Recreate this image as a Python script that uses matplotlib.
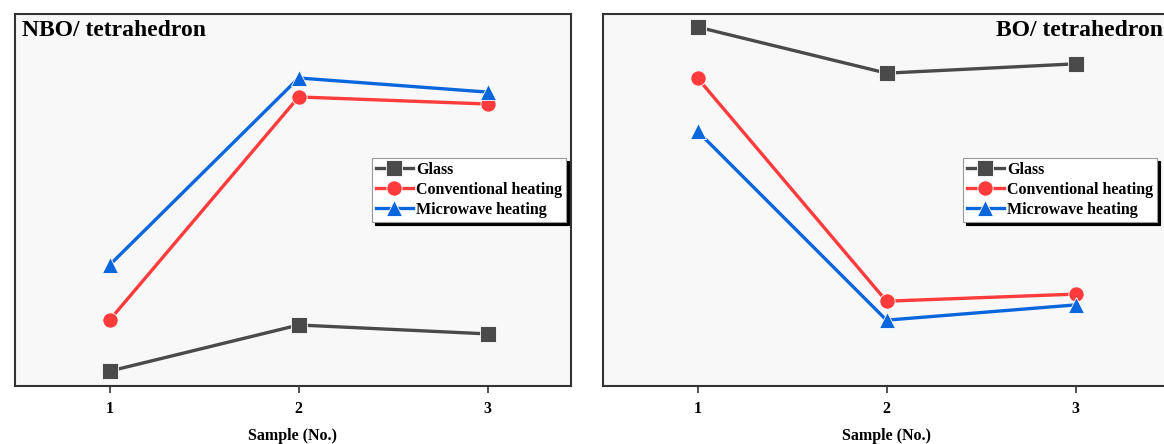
import matplotlib.pyplot as plt

# ---- data (arbitrary units, y axis unlabelled) ----
samples = [1, 2, 3]
series_names = ["Glass", "Conventional heating", "Microwave heating"]

nbo_glass = [4.0, 16.4, 14.0]
nbo_conv = [17.7, 77.7, 75.8]
nbo_micro = [32.5, 82.8, 79.0]

bo_glass = [96.5, 84.1, 86.6]
bo_conv = [82.8, 22.8, 24.7]
bo_micro = [68.5, 17.7, 21.8]
# ------------------------------------------------------------------------

COLORS = ['#4a4a4a', '#ff3b3b', '#0a66dd']
MARKERS = ['s', 'o', '^']
W, H = 1164, 444

plt.rcParams['font.family'] = ['Liberation Serif', 'DejaVu Serif']
plt.rcParams['font.weight'] = 'bold'

fig = plt.figure(figsize=(W / 100, H / 100), dpi=100)
fig.patch.set_facecolor('white')


def px_axes(l, t, r, b):
    return fig.add_axes([l / W, 1 - b / H, (r - l) / W, (b - t) / H])


def draw_panel(ax, data, xmax, title, title_kw, leg_anchor):
    ax.set_facecolor('#f8f8f8')
    for vals, c, m, name in zip(data, COLORS, MARKERS, series_names):
        ax.plot(samples, vals, color=c, marker=m, lw=2.4, ms=11,
                markeredgecolor='white', markeredgewidth=0.6, label=name)
    ax.set_xlim(0.5, xmax)
    ax.set_ylim(0, 100)
    ax.set_yticks([])
    ax.set_xticks(samples)
    ax.set_xticklabels([str(s) for s in samples], fontsize=11.5, fontweight='bold')
    ax.tick_params(axis='x', direction='out', length=5, width=1.2, color='#333333', pad=6)
    for s in ax.spines.values():
        s.set_color('#333333')
        s.set_linewidth(1.5)
    ax.set_xlabel("Sample (No.)", fontsize=11.5, fontweight='bold', labelpad=8)
    ax.text(s=title, fontsize=17, fontweight='bold', transform=ax.transAxes, **title_kw)
    leg = ax.legend(loc='upper left', bbox_to_anchor=leg_anchor, borderaxespad=0,
                    fancybox=False, shadow={'color': 'black', 'alpha': 1},
                    edgecolor='#999999', framealpha=1, handlelength=2.3,
                    handletextpad=0.2, borderpad=0.25, labelspacing=0.25,
                    prop={'size': 11.5, 'weight': 'bold'})
    leg.get_frame().set_linewidth(0.8)
    return ax


ax1 = px_axes(15, 14, 571, 386)
draw_panel(ax1, [nbo_glass, nbo_conv, nbo_micro], 3.44, "NBO/ tetrahedron",
           dict(x=0.012, y=0.955, ha='left', va='center'), (0.642, 0.613))

ax2 = px_axes(603, 14, 1170, 386)
draw_panel(ax2, [bo_glass, bo_conv, bo_micro], 3.5, "BO/ tetrahedron",
           dict(x=(1163 - 603) / 567, y=0.955, ha='right', va='center'), (0.635, 0.613))

fig.savefig("out.png", dpi=100)
